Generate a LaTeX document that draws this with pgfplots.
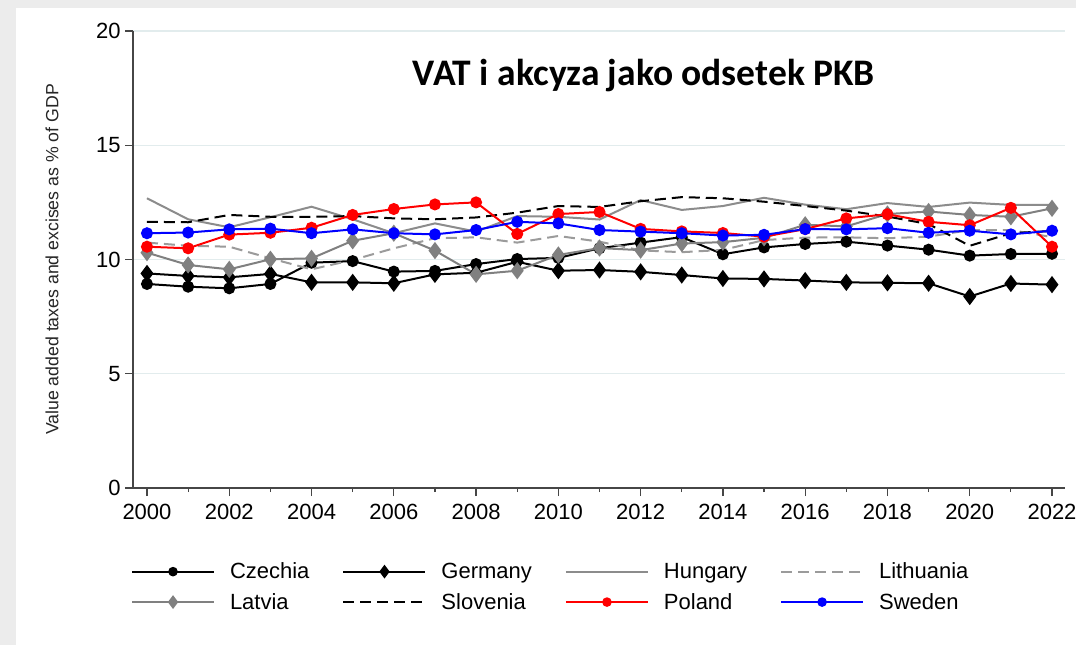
\documentclass[border=0pt]{standalone}
\usepackage{pgfplots}
\pgfplotsset{compat=1.18}
\usepackage{pgfplotstable}
\usepackage{fontspec}
\setmainfont{Liberation Sans}
\newfontfamily\titlefont{Carlito}
\definecolor{bgc}{RGB}{236,236,236}
\definecolor{gridc}{RGB}{226,236,237}
\definecolor{hungc}{RGB}{140,140,140}
\definecolor{latc}{RGB}{128,128,128}
\definecolor{lithc}{RGB}{155,155,155}
\definecolor{axc}{RGB}{70,70,70}

\pgfplotstableread{
year Czechia Germany Hungary Lithuania Latvia Slovenia Poland Sweden
2000 8.93 9.39 12.68 10.74 10.30 11.65 10.56 11.15
2001 8.81 9.28 11.76 10.60 9.76 11.63 10.49 11.18
2002 8.74 9.22 11.41 10.56 9.57 11.95 11.09 11.32
2003 8.93 9.37 11.85 10.05 10.01 11.87 11.17 11.35
2004 9.86 9.00 12.31 9.57 10.05 11.87 11.39 11.15
2005 9.93 9.00 11.76 9.98 10.82 11.90 11.95 11.32
2006 9.47 8.96 11.15 10.49 11.15 11.80 12.21 11.15
2007 9.50 9.35 11.58 10.93 10.39 11.76 12.41 11.10
2008 9.80 9.42 11.22 10.97 9.35 11.84 12.50 11.29
2009 10.02 9.90 11.90 10.74 9.51 12.05 11.12 11.65
2010 10.07 9.51 11.87 11.03 10.20 12.34 11.99 11.58
2011 10.49 9.54 11.75 10.78 10.50 12.30 12.08 11.29
2012 10.74 9.46 12.60 10.40 10.41 12.55 11.34 11.22
2013 10.98 9.32 12.17 10.32 10.70 12.73 11.23 11.15
2014 10.23 9.17 12.34 10.42 10.76 12.68 11.16 11.05
2015 10.53 9.15 12.70 10.85 10.95 12.53 11.00 11.08
2016 10.68 9.08 12.40 10.96 11.52 12.34 11.33 11.33
2017 10.78 9.00 12.20 10.97 11.45 12.14 11.80 11.32
2018 10.61 8.98 12.47 10.93 11.99 11.88 11.98 11.37
2019 10.43 8.96 12.30 11.00 12.10 11.55 11.65 11.17
2020 10.17 8.38 12.49 11.29 11.95 10.60 11.50 11.26
2021 10.24 8.95 12.39 11.29 11.87 11.15 12.26 11.10
2022 10.25 8.90 12.39 10.98 12.24 11.25 10.56 11.26
}\datatable

\begin{document}
\begin{tikzpicture}
\useasboundingbox (0,0) rectangle (1076pt,-645pt);
\fill[bgc] (0,0) rectangle (1076pt,-645pt);
\fill[white] (16pt,-8pt) rectangle (1076pt,-645pt);
\begin{axis}[
  at={(133pt,-488pt)}, anchor=south west,
  scale only axis, width=932pt, height=457pt,
  xmin=1999.66, xmax=2022.316, ymin=0, ymax=20,
  axis lines*=left,
  axis line style={axc, line width=1.3pt},
  xtick={2000,2002,...,2022},
  minor xtick={2001,2003,...,2021},
  ytick={0,5,10,15,20},
  tick align=outside,
  major tick length=8pt, minor tick length=4pt,
  every tick/.style={axc, line width=1.2pt},
  ymajorgrids,
  grid style={gridc, line width=1.3pt},
  /pgf/number format/1000 sep={},
  /pgf/number format/assume math mode=true,
  tick label style={font=\fontsize{22}{26}\selectfont},
  xticklabel style={yshift=-4pt},
  ylabel={Value added taxes and excises as \% of GDP},
  every axis y label/.style={at={(axis description cs:-0.0869,0.5)}, rotate=90, anchor=center, font=\fontsize{17.7}{20}\selectfont, text=black!85},
  legend columns=4,
  legend cell align=left,
  legend style={at={(axis description cs:-0.0032,-0.153)}, anchor=north west, draw=none, fill=none,
    inner xsep=0pt,
    font=\fontsize{22}{26}\selectfont,
    nodes={inner xsep=0pt, inner ysep=2pt},
    /tikz/every odd column/.append style={column sep=15pt},
    /tikz/every even column/.append style={column sep=33pt},
    row sep=9pt},
  legend image code/.code={
    \draw[mark repeat=2,mark phase=2,every mark/.append style={scale=0.75},#1] plot coordinates {(0pt,0pt) (41pt,0pt) (82pt,0pt)};
  },
  line width=2pt,
]
\addplot[black, mark=*, mark size=5pt] table[x=year,y=Czechia]{\datatable};
\addlegendentry{Czechia}
\addplot[black, mark=diamond*, mark size=7pt] table[x=year,y=Germany]{\datatable};
\addlegendentry{Germany}
\addplot[hungc, no marks] table[x=year,y=Hungary]{\datatable};
\addlegendentry{Hungary}
\addplot[lithc, no marks, dash pattern=on 11pt off 6pt] table[x=year,y=Lithuania]{\datatable};
\addlegendentry{Lithuania}
\addplot[latc, mark=diamond*, mark size=7pt] table[x=year,y=Latvia]{\datatable};
\addlegendentry{Latvia}
\addplot[black, no marks, dash pattern=on 11pt off 6pt] table[x=year,y=Slovenia]{\datatable};
\addlegendentry{Slovenia}
\addplot[red, mark=*, mark size=5pt] table[x=year,y=Poland]{\datatable};
\addlegendentry{Poland}
\addplot[blue, mark=*, mark size=5pt] table[x=year,y=Sweden]{\datatable};
\addlegendentry{Sweden}
\node[font=\titlefont\bfseries\fontsize{37.5}{42}\selectfont] at (axis cs:2012.08,18.07) {VAT i akcyza jako odsetek PKB};
\end{axis}
\end{tikzpicture}
\end{document}
